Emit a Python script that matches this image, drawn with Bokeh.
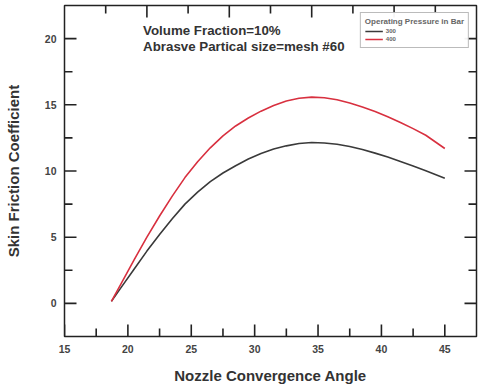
from bokeh.plotting import figure
from bokeh.models import (Range1d, SingleIntervalTicker, Legend, LegendItem, Label)
from bokeh.embed import file_html
from bokeh.resources import INLINE

# Data
angle = [18.7, 19.5, 20.5, 21.5, 22.5, 23.5, 24.5, 25.5, 26.5, 27.5, 28.5, 29.5, 30.5,
         31.5, 32.5, 33.5, 34.5, 35.5, 36.5, 37.5, 38.5, 39.5, 40.5, 41.5, 42.5, 43.5, 45]
cf_300 = [0.15, 1.25, 2.6, 3.95, 5.2, 6.4, 7.5, 8.4, 9.2, 9.85, 10.4, 10.9, 11.32,
          11.66, 11.9, 12.08, 12.15, 12.12, 12.02, 11.85, 11.62, 11.35, 11.05, 10.72, 10.38, 10.02, 9.45]
cf_400 = [0.15, 1.55, 3.3, 5.0, 6.6, 8.1, 9.5, 10.7, 11.75, 12.65, 13.4, 14.0, 14.52,
          14.95, 15.28, 15.5, 15.58, 15.53, 15.38, 15.14, 14.84, 14.5, 14.1, 13.67, 13.2, 12.7, 11.7]
series_labels = ["300", "400"]
legend_title = "Operating Pressure in Bar"
x_label = "Nozzle Convergence Angle"
y_label = "Skin Friction Coefficient"
note_1 = "Volume Fraction=10%"
note_2 = "Abrasve Partical size=mesh #60"

# tick values
x_major = [15, 20, 25, 30, 35, 40, 45]
x_minor = [17.5, 22.5, 27.5, 32.5, 37.5, 42.5]
y_major = [0, 5, 10, 15, 20]
y_minor = [2.5, 7.5, 12.5, 17.5]
top_major = [10, 20, 30, 40]          # top axis of the original used its own 0-50 scale
top_minor = [5, 15, 25, 35, 45]

FONT = "Liberation Sans"
DARK = "#222222"
X0, X1, Y0, Y1 = 15, 47.5, -2.5, 22.5
W, H = 483, 386
BL, BR, BT, BB = 64, 7, 5, 47
px_x = (X1 - X0) / (W - BL - BR)   # data units per pixel
px_y = (Y1 - Y0) / (H - BT - BB)

p = figure(width=W, height=H, output_backend="svg", toolbar_location=None,
           x_range=Range1d(X0, X1), y_range=Range1d(Y0, Y1),
           min_border_left=BL, min_border_right=BR, min_border_top=BT, min_border_bottom=BB,
           background_fill_color="white", border_fill_color="white")
p.grid.visible = False
p.outline_line_color = DARK
p.outline_line_width = 1.5
p.extra_x_ranges = {"top": Range1d(0, 50)}

def style_axis(ax):
    ax.axis_line_color = None
    ax.major_tick_line_color = None
    ax.minor_tick_line_color = None
    ax.major_tick_out = 0
    ax.minor_tick_out = 0
    ax.major_label_text_font = FONT
    ax.major_label_text_font_style = "bold"
    ax.major_label_text_font_size = "10.5px"
    ax.major_label_text_color = "#444444"
    ax.major_label_standoff = 8
    ax.axis_label_text_font = FONT
    ax.axis_label_text_font_style = "bold"
    ax.axis_label_text_font_size = "15px"
    ax.axis_label_text_color = "#333333"

xa = p.xaxis[0]
xa.ticker = SingleIntervalTicker(interval=5)
style_axis(xa)
xa.axis_label = x_label
xa.axis_label_standoff = 11

ya = p.yaxis[0]
ya.ticker = SingleIntervalTicker(interval=5)
style_axis(ya)
ya.axis_label = y_label
ya.axis_label_standoff = 20

# inward ticks as short segments
seg = dict(line_color=DARK, line_width=1.6)
MAJ, MIN = 12, 8
p.segment(x0=x_major, y0=[Y0] * len(x_major), x1=x_major, y1=[Y0 + MAJ * px_y] * len(x_major), **seg)
p.segment(x0=x_minor, y0=[Y0] * len(x_minor), x1=x_minor, y1=[Y0 + MIN * px_y] * len(x_minor), **seg)
p.segment(x0=[X0] * len(y_major), y0=y_major, x1=[X0 + MAJ * px_x] * len(y_major), y1=y_major, **seg)
p.segment(x0=[X0] * len(y_minor), y0=y_minor, x1=[X0 + MIN * px_x] * len(y_minor), y1=y_minor, **seg)
p.segment(x0=[X1] * len(y_major), y0=y_major, x1=[X1 - MAJ * px_x] * len(y_major), y1=y_major, **seg)
p.segment(x0=[X1] * len(y_minor), y0=y_minor, x1=[X1 - MIN * px_x] * len(y_minor), y1=y_minor, **seg)
p.segment(x0=top_major, y0=[Y1] * len(top_major), x1=top_major, y1=[Y1 - MAJ * px_y] * len(top_major),
          x_range_name="top", **seg)
p.segment(x0=top_minor, y0=[Y1] * len(top_minor), x1=top_minor, y1=[Y1 - MIN * px_y] * len(top_minor),
          x_range_name="top", **seg)

r1 = p.line(angle, cf_300, line_color="#3a3a3a", line_width=1.6)
r2 = p.line(angle, cf_400, line_color="#d8303f", line_width=1.6)

legend = Legend(items=[LegendItem(label=series_labels[0], renderers=[r1]),
                       LegendItem(label=series_labels[1], renderers=[r2])],
                location="top_right", title=legend_title,
                title_text_font=FONT, title_text_font_size="8px", title_text_font_style="bold",
                title_text_color="#666666", title_standoff=1,
                label_text_font=FONT, label_text_font_size="6px", label_text_font_style="bold",
                label_text_color="#666666", label_height=8, label_standoff=3,
                glyph_height=8, glyph_width=18, spacing=0, padding=4, margin=7,
                border_line_color="#777777", border_line_width=1,
                background_fill_color="white")
p.add_layout(legend)

p.add_layout(Label(x=21.2, y=21.2, text=note_1, text_font=FONT, text_font_style="bold",
                   text_font_size="13.3px", text_color="#333333", text_baseline="top"))
p.add_layout(Label(x=21.2, y=20.0, text=note_2, text_font=FONT, text_font_style="bold",
                   text_font_size="13.3px", text_color="#333333", text_baseline="top"))

open("out.html", "w").write(file_html(p, INLINE))
